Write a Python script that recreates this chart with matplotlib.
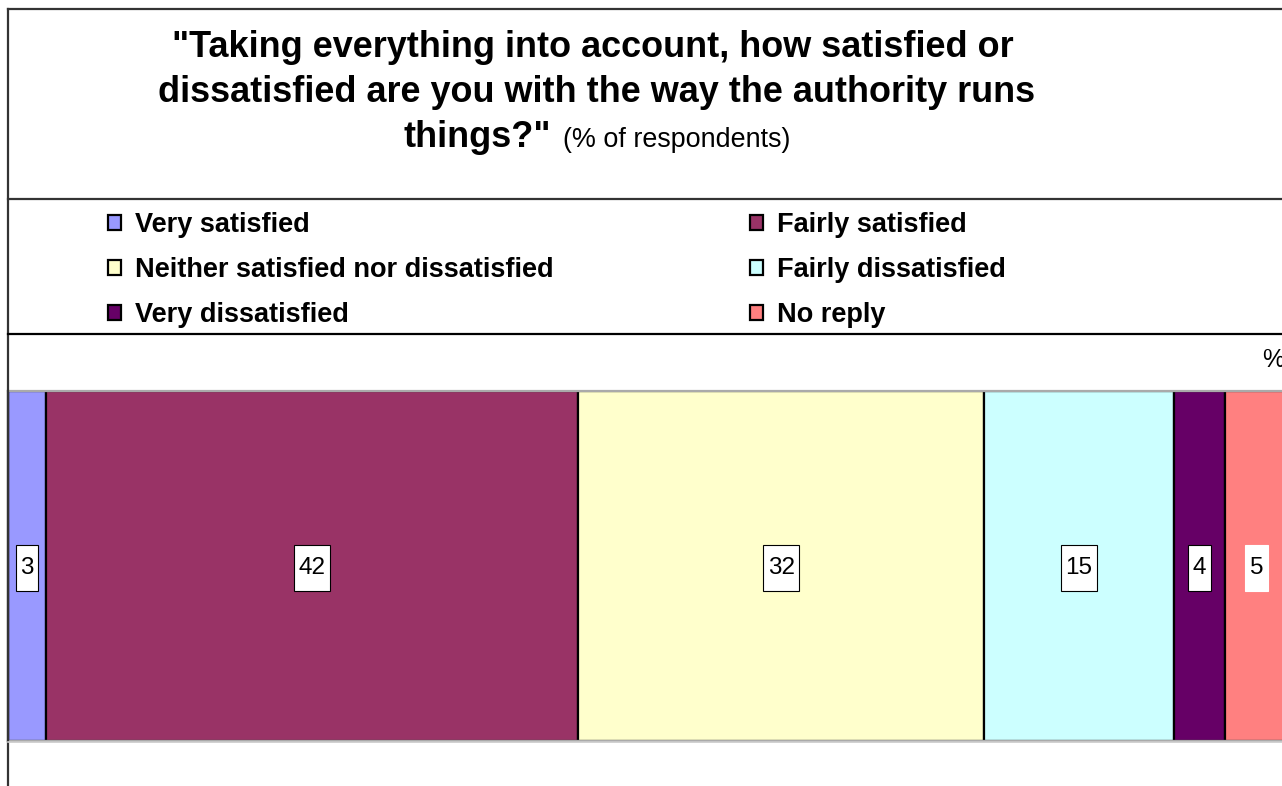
import matplotlib.pyplot as plt
from matplotlib.lines import Line2D
from matplotlib.path import Path
import numpy as np

plt.rcParams['font.family'] = ['Liberation Sans', 'DejaVu Sans']

categories = ['Very satisfied', 'Fairly satisfied', 'Neither satisfied nor dissatisfied',
              'Fairly dissatisfied', 'Very dissatisfied', 'No reply']
values = [3, 42, 32, 15, 4, 5]
colors = ['#9999FF', '#993366', '#FFFFCC', '#CCFFFF', '#660066', '#FF8080']

W, H = 1282, 786
fig = plt.figure(figsize=(W / 100, H / 100), dpi=100)


def fx(px):
    return px / W


def fy(py):
    return 1 - py / H


def label_box(x0, y0, width, height, mutation_size):
    # tall narrow box around the value labels
    px = 0.19 * mutation_size
    py = 0.5 * mutation_size
    x1, y1 = x0 + width + px, y0 + height + py
    x0, y0 = x0 - px, y0 - py
    return Path([(x0, y0), (x1, y0), (x1, y1), (x0, y1), (x0, y0)], closed=True)


# outer frame and section dividers
frame = '#333333'
fig.add_artist(Line2D([fx(8), fx(8)], [fy(9), 0], color=frame, lw=1.6))
fig.add_artist(Line2D([fx(8), 1], [fy(9), fy(9)], color=frame, lw=1.6))
fig.add_artist(Line2D([fx(8), 1], [fy(199), fy(199)], color=frame, lw=1.6))
fig.add_artist(Line2D([fx(8), 1], [fy(334), fy(334)], color='black', lw=1.6))

# title
fig.text(fx(593), fy(57), '"Taking everything into account, how satisfied or',
         ha='center', va='baseline', fontsize=25.9, fontweight='bold')
fig.text(fx(597), fy(102), 'dissatisfied are you with the way the authority runs',
         ha='center', va='baseline', fontsize=25.9, fontweight='bold')
fig.text(fx(551), fy(147), 'things?"', ha='right', va='baseline',
         fontsize=25.9, fontweight='bold')
fig.text(fx(563), fy(147), '(% of respondents)', ha='left', va='baseline', fontsize=19.4)

fig.text(fx(1262), fy(367), '%', ha='left', va='baseline', fontsize=18)

# stacked horizontal bar
left = np.concatenate([[0], np.cumsum(values)[:-1]])
total = sum(values)
ax = fig.add_axes([fx(8), fy(741), (1288 - 8) / W, (741 - 391) / H])
bars = []
for v, l, c, name in zip(values, left, colors, categories):
    b = ax.barh(0, v, left=l, height=1, color=c, edgecolor='black', linewidth=1.6, label=name)
    bars.append(b)
    ax.text(l + v / 2, -0.006, str(v), ha='center', va='center', fontsize=17.5,
            bbox=dict(boxstyle=label_box, fc='white',
                      ec='black' if name != 'No reply' else 'white', lw=0.8))
ax.set_xlim(0, total)
ax.set_ylim(-0.5, 0.5)
ax.set_xticks([])
ax.set_yticks([])
for s in ['top', 'bottom']:
    ax.spines[s].set_color('#aaaaaa')
    ax.spines[s].set_linewidth(1.6)
ax.spines['left'].set_color('black')
ax.spines['left'].set_linewidth(1.6)
ax.spines['right'].set_visible(False)
fig.add_artist(Line2D([fx(8), 1], [fy(742), fy(742)], color='#cccccc', lw=1.2))

# legend in two columns
leg_kw = dict(loc='upper left', frameon=False, handlelength=0.48, handleheight=0.48,
              handletextpad=0.5, labelspacing=0.7, borderpad=0, borderaxespad=0,
              prop={'weight': 'bold', 'size': 19.5})
fig.legend([bars[0], bars[2], bars[4]], [categories[0], categories[2], categories[4]],
           bbox_to_anchor=(fx(108), fy(212)), **leg_kw)
fig.legend([bars[1], bars[3], bars[5]], [categories[1], categories[3], categories[5]],
           bbox_to_anchor=(fx(750), fy(212)), **leg_kw)

fig.savefig('out.png', dpi=100)
